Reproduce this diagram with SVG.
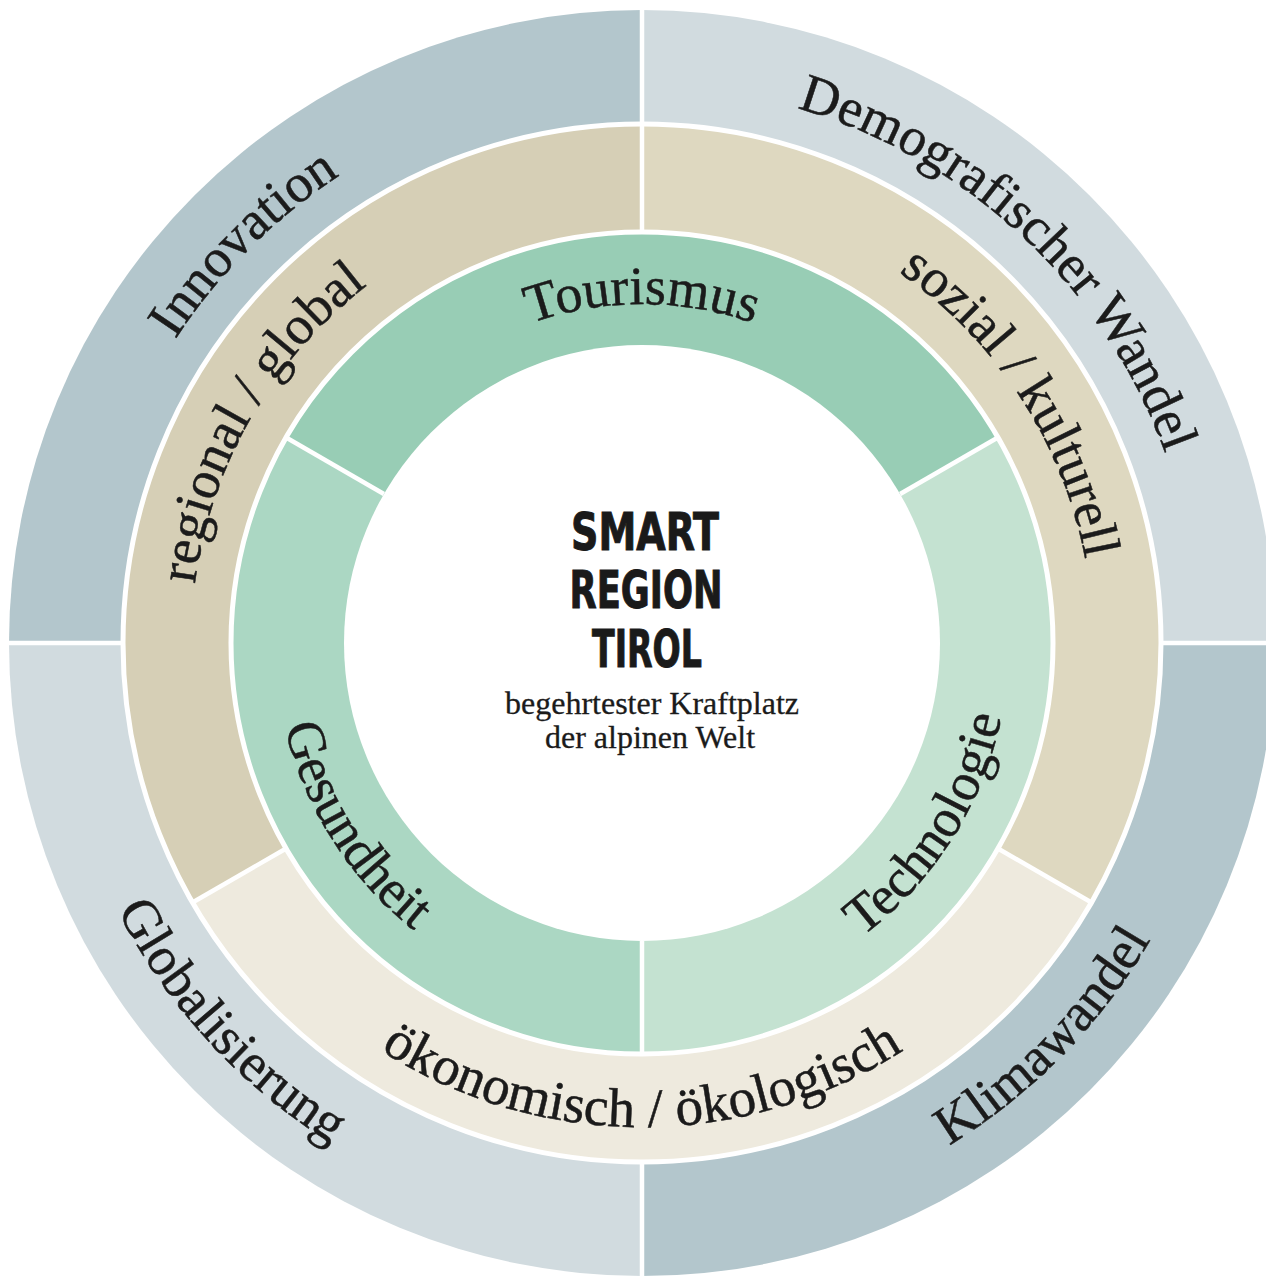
<svg xmlns="http://www.w3.org/2000/svg" width="1266" height="1276" viewBox="0 0 1266 1276">
<style>
.lbl{font-family:"Liberation Serif","Times New Roman",serif;font-size:54px;fill:#1b1b1b;stroke:#1b1b1b;stroke-width:0.5}
.sep{stroke:#ffffff;stroke-width:4.5;fill:none}
.ring{stroke:#ffffff;stroke-width:5;fill:none}
.title{font-family:"DejaVu Sans Condensed","DejaVu Sans",sans-serif;font-weight:bold;font-size:52px;fill:#1a1a1a;stroke:#1a1a1a;stroke-width:1}
.sub{font-family:"Liberation Serif","Times New Roman",serif;font-size:32px;fill:#1b1b1b;stroke:#1b1b1b;stroke-width:0.3}
</style>
<defs>
<path id="pInnovation" d="M104,785.8 A557,557 0 0 1 786.2,105"/>
<path id="pDemografie" d="M497.8,105 A557,557 0 0 1 1180,785.8"/>
<path id="pGlobal" d="M73.1,490.6 A589,589 0 0 0 794.4,1211.9"/>
<path id="pKlima" d="M489.6,1211.9 A589,589 0 0 0 1210.9,490.6"/>
<path id="pRegional" d="M251.4,868.5 A451,451 0 0 1 642,192"/>
<path id="pSozial" d="M642,192 A451,451 0 0 1 1032.6,868.5"/>
<path id="pOeko" d="M222.8,885 A484,484 0 0 0 1061.2,885"/>
<path id="pTourismus" d="M352,471.5 A335,335 0 0 1 932,471.5"/>
<path id="pGesundheit" d="M324.2,459.5 A367,367 0 0 0 642,1010"/>
<path id="pTechnologie" d="M642,1010 A367,367 0 0 0 959.8,459.5"/>
</defs>
<rect width="1266" height="1276" fill="#ffffff"/>

<g id="outer-innovation">
<path d="M642,643 L9,643 A633,633 0 0 1 642,10 Z" fill="#b3c6cc"/>
<text class="lbl"><textPath href="#pInnovation" startOffset="50%" text-anchor="middle">Innovation</textPath></text>
</g>
<g id="outer-demografischer-wandel">
<path d="M642,643 L642,10 A633,633 0 0 1 1275,643 Z" fill="#d1dbdf"/>
<text class="lbl"><textPath href="#pDemografie" startOffset="48.5%" text-anchor="middle">Demografischer Wandel</textPath></text>
</g>
<g id="outer-klimawandel">
<path d="M642,643 L1275,643 A633,633 0 0 1 642,1276 Z" fill="#b3c6cc"/>
<text class="lbl"><textPath href="#pKlima" startOffset="50.5%" text-anchor="middle">Klimawandel</textPath></text>
</g>
<g id="outer-globalisierung">
<path d="M642,643 L642,1276 A633,633 0 0 1 9,643 Z" fill="#d1dbdf"/>
<text class="lbl"><textPath href="#pGlobal" startOffset="48%" text-anchor="middle">Globalisierung</textPath></text>
</g>

<g id="middle-regional-global">
<path d="M642,643 L192.5,902.5 A519,519 0 0 1 642,124 Z" fill="#d6cfb6"/>
</g>
<g id="middle-sozial-kulturell">
<path d="M642,643 L642,124 A519,519 0 0 1 1091.5,902.5 Z" fill="#ded8c0"/>
</g>
<g id="middle-oekonomisch-oekologisch">
<path d="M642,643 L1091.5,902.5 A519,519 0 0 1 192.5,902.5 Z" fill="#eeeade"/>
</g>

<g id="inner-tourismus">
<path d="M642,643 L286.1,437.5 A411,411 0 0 1 997.9,437.5 Z" fill="#98cdb5"/>
</g>
<g id="inner-technologie">
<path d="M642,643 L997.9,437.5 A411,411 0 0 1 642,1054 Z" fill="#c4e2d1"/>
</g>
<g id="inner-gesundheit">
<path d="M642,643 L642,1054 A411,411 0 0 1 286.1,437.5 Z" fill="#abd7c3"/>
</g>

<g id="separators">
<circle class="ring" cx="642" cy="643" r="519"/>
<circle class="ring" cx="642" cy="643" r="411"/>
<line class="sep" x1="642" y1="0" x2="642" y2="124"/>
<line class="sep" x1="642" y1="1162" x2="642" y2="1276"/>
<line class="sep" x1="0" y1="643" x2="123" y2="643"/>
<line class="sep" x1="1161" y1="643" x2="1266" y2="643"/>
<line class="sep" x1="642" y1="232" x2="642" y2="124"/>
<line class="sep" x1="286.1" y1="848.5" x2="192.5" y2="902.5"/>
<line class="sep" x1="997.9" y1="848.5" x2="1091.5" y2="902.5"/>
<line class="sep" x1="383.9" y1="494" x2="286.1" y2="437.5"/>
<line class="sep" x1="900.1" y1="494" x2="997.9" y2="437.5"/>
<line class="sep" x1="642" y1="941" x2="642" y2="1054"/>
</g>

<g id="labels">
<text class="lbl"><textPath href="#pRegional" startOffset="50%" text-anchor="middle">regional / global</textPath></text>
<text class="lbl"><textPath href="#pSozial" startOffset="47.5%" text-anchor="middle">sozial / kulturell</textPath></text>
<text class="lbl" style="font-size:55px"><textPath href="#pOeko" startOffset="50%" text-anchor="middle">ökonomisch / ökologisch</textPath></text>
<text class="lbl"><textPath href="#pTourismus" startOffset="50%" text-anchor="middle">Tourismus</textPath></text>
<text class="lbl"><textPath href="#pGesundheit" startOffset="52%" text-anchor="middle">Gesundheit</textPath></text>
<text class="lbl"><textPath href="#pTechnologie" startOffset="48%" text-anchor="middle">Technologie</textPath></text>
</g>

<g id="center">
<circle cx="642" cy="643" r="298" fill="#ffffff"/>
<text class="title" x="645" y="550" text-anchor="middle" textLength="148" lengthAdjust="spacingAndGlyphs">SMART</text>
<text class="title" x="646" y="608" text-anchor="middle" textLength="153" lengthAdjust="spacingAndGlyphs">REGION</text>
<text class="title" x="647" y="667" text-anchor="middle" textLength="110" lengthAdjust="spacingAndGlyphs">TIROL</text>
<text class="sub" x="652" y="714" text-anchor="middle">begehrtester Kraftplatz</text>
<text class="sub" x="650" y="748" text-anchor="middle">der alpinen Welt</text>
</g>
</svg>
